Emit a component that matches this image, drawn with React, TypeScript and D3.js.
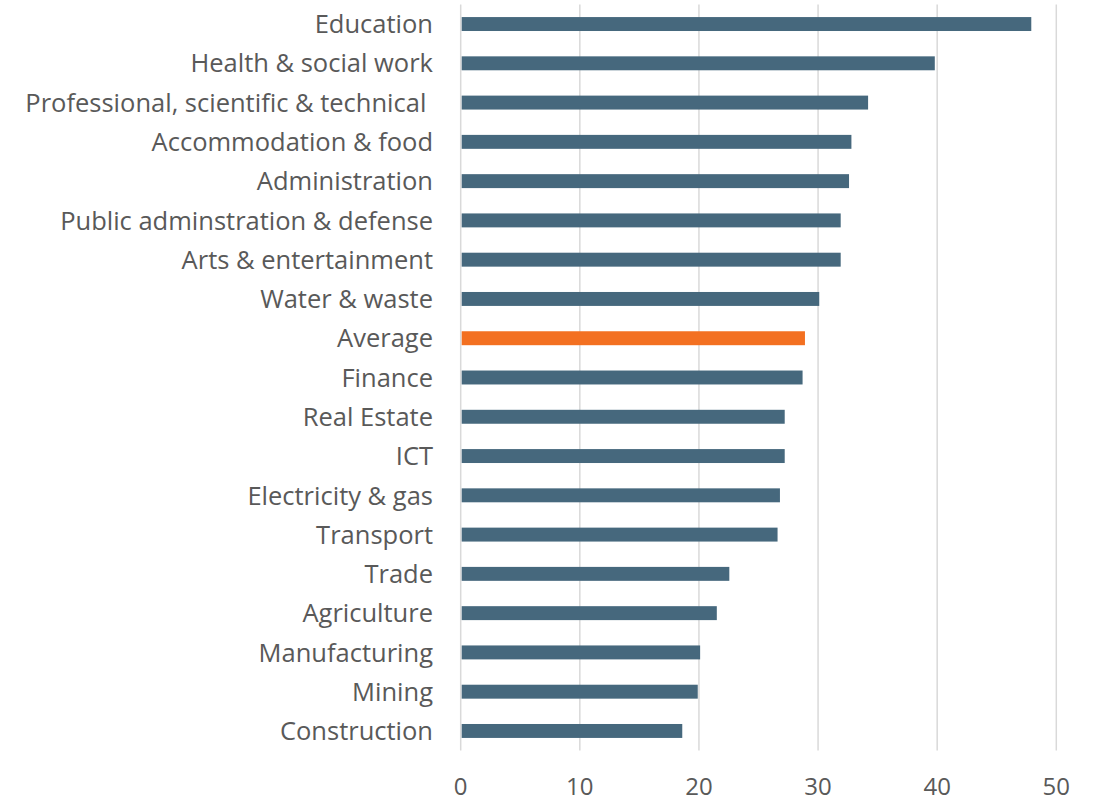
import React from "react";
import * as d3 from "d3";

// Sectors, top to bottom
const categories: string[] = [
  "Education",
  "Health & social work",
  "Professional, scientific & technical ",
  "Accommodation & food",
  "Administration",
  "Public adminstration & defense",
  "Arts & entertainment",
  "Water & waste",
  "Average",
  "Finance",
  "Real Estate",
  "ICT",
  "Electricity & gas",
  "Transport",
  "Trade",
  "Agriculture",
  "Manufacturing",
  "Mining",
  "Construction",
];

const values: number[] = [
  47.9, 39.8, 34.2, 32.8, 32.6, 31.9, 31.9, 30.1, 28.9, 28.7, 27.2, 27.2, 26.8,
  26.6, 22.55, 21.5, 20.1, 19.9, 18.6,
];

const xTicks: number[] = [0, 10, 20, 30, 40, 50];

const highlight = "Average";

const W = 1104;
const H = 802;
const left = 460.7;
const right = 1056.3;
const top = 4.4;
const bottom = 750.6;

const BAR = "#46687d";
const HIGHLIGHT = "#f37021";
const GRID = "#d9d9d9";
const TEXT = "#595959";
const FONT = "'Open Sans', 'Noto Sans', sans-serif";

export default function App() {
  const x = d3.scaleLinear().domain([0, 50]).range([left, right]);
  const y = d3
    .scaleBand<string>()
    .domain(categories)
    .range([top, bottom])
    .paddingInner(0.645)
    .paddingOuter(0.3225);

  return (
    <svg
      width={W}
      height={H}
      style={{ position: "absolute", left: 0, top: 0, background: "#fff" }}
    >
      {xTicks.map((t) => (
        <line
          key={"g" + t}
          x1={x(t)}
          x2={x(t)}
          y1={top}
          y2={bottom}
          stroke={GRID}
          strokeWidth={1.5}
        />
      ))}
      {categories.map((c, i) => (
        <rect
          key={c}
          x={x(0) + 1}
          y={y(c)!}
          width={x(values[i]) - x(0) - 1}
          height={y.bandwidth()}
          fill={c === highlight ? HIGHLIGHT : BAR}
        />
      ))}
      {categories.map((c) => (
        <text
          key={"l" + c}
          x={433}
          y={y(c)! + y.bandwidth() / 2}
          dy="0.36em"
          textAnchor="end"
          fontFamily={FONT}
          fontSize={25.5}
          fill={TEXT}
          style={{ whiteSpace: "pre" }}
        >
          {c}
        </text>
      ))}
      {xTicks.map((t) => (
        <text
          key={"t" + t}
          x={x(t)}
          y={795}
          textAnchor="middle"
          fontFamily={FONT}
          fontSize={24}
          fill={TEXT}
        >
          {t}
        </text>
      ))}
    </svg>
  );
}
